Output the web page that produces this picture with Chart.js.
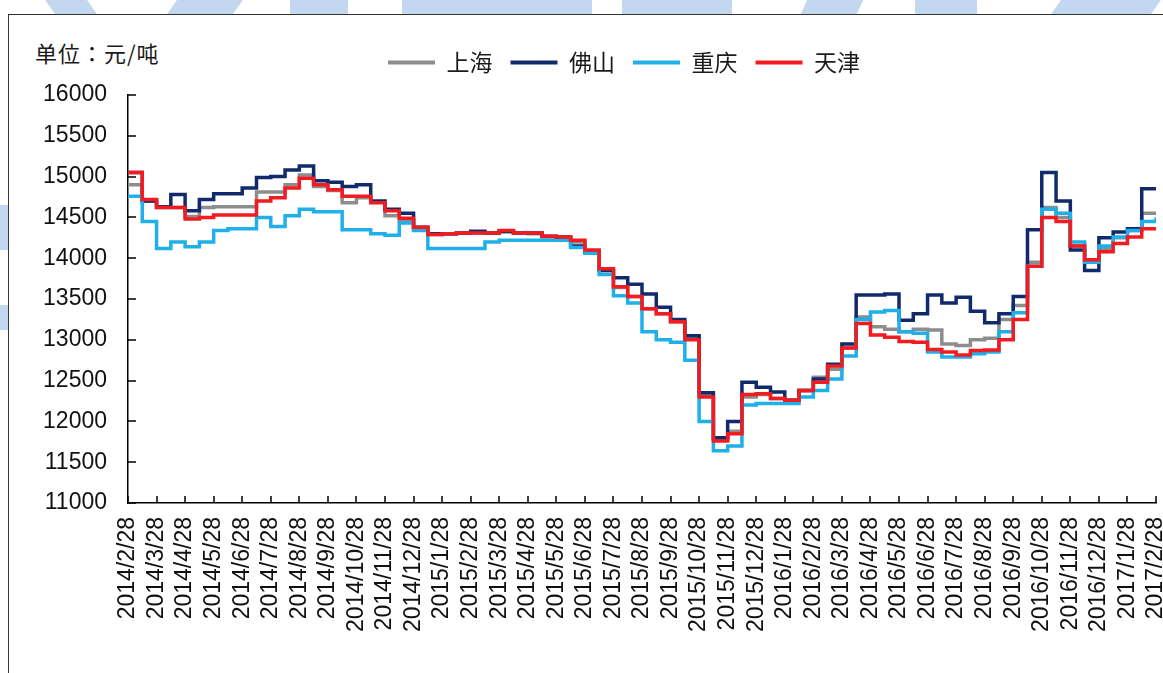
<!DOCTYPE html>
<html lang="zh">
<head>
<meta charset="utf-8">
<title>钢材价格走势</title>
<script src="https://cdn.jsdelivr.net/npm/chart.js@4.4.0/dist/chart.umd.min.js"></script>
<style>
  html, body { margin: 0; padding: 0; background: #fff; overflow: hidden; }
  body { width: 1163px; height: 673px; position: relative; }
  .wm { position: absolute; background: #c4d7f1; }
  .frame {
    position: absolute; left: 8px; top: 14px; width: 1300px; height: 800px;
    border-left: 1.5px solid #333; border-top: 1.5px solid #333; background: #fff;
  }
  .unit {
    position: absolute; left: 35px; top: 40px; letter-spacing: 1px;
    font: 22px "Noto Sans CJK JP", sans-serif; line-height: 24px; color: #1a1a1a;
  }
  .wrap { position: absolute; left: 0; top: 0; width: 1246px; height: 673px; }
</style>
</head>
<body>
<!-- watermark bits peeking out round the frame -->
<div class="wm" style="left:50px;top:0;width:42px;height:14px;transform:skewX(35deg)"></div>
<div class="wm" style="left:172px;top:0;width:66px;height:14px;transform:skewX(-35deg)"></div>
<div class="wm" style="left:290px;top:0;width:58px;height:14px"></div>
<div class="wm" style="left:402px;top:0;width:190px;height:14px"></div>
<div class="wm" style="left:622px;top:0;width:110px;height:14px"></div>
<div class="wm" style="left:804px;top:0;width:56px;height:14px;transform:skewX(-25deg)"></div>
<div class="wm" style="left:915px;top:0;width:62px;height:14px"></div>
<div class="wm" style="left:1056px;top:0;width:100px;height:14px;transform:skewX(-35deg)"></div>
<div class="wm" style="left:0;top:205px;width:8px;height:45px"></div>
<div class="wm" style="left:0;top:305px;width:8px;height:25px"></div>

<div class="frame"></div>
<div class="unit" lang="ja">单位：元/吨</div>
<div class="wrap"><canvas id="chart" width="1246" height="673"></canvas></div>

<script>
// month ticks, 2014/2/28 .. 2017/2/28
const tickLabels = [
    '2014/2/28', '2014/3/28', '2014/4/28', '2014/5/28', '2014/6/28', '2014/7/28',
    '2014/8/28', '2014/9/28', '2014/10/28', '2014/11/28', '2014/12/28',
    '2015/1/28', '2015/2/28', '2015/3/28', '2015/4/28', '2015/5/28', '2015/6/28',
    '2015/7/28', '2015/8/28', '2015/9/28', '2015/10/28', '2015/11/28', '2015/12/28',
    '2016/1/28', '2016/2/28', '2016/3/28', '2016/4/28', '2016/5/28', '2016/6/28',
    '2016/7/28', '2016/8/28', '2016/9/28', '2016/10/28', '2016/11/28', '2016/12/28',
    '2017/1/28', '2017/2/28'
];

const seriesNames = ['上海', '佛山', '重庆', '天津'];
const seriesColors = ['#8d8d8d', '#112a6c', '#1fb0ea', '#f21b1f'];

// prices read every half month (yuan / ton)
const shanghai = [
    14900, 14700, 14620, 14620, 14510, 14620, 14630, 14630, 14630, 14810,
    14810, 14900, 15020, 14880, 14830, 14680, 14740, 14690, 14520, 14460,
    14370, 14290, 14300, 14310, 14310, 14310, 14320, 14310, 14300, 14260,
    14250, 14200, 14080, 13850, 13640, 13530, 13380, 13320, 13220, 13020,
    12330, 11780, 11880, 12300, 12330, 12280, 12260, 12380, 12540, 12640,
    12900, 13280, 13160, 13130, 13100, 13130, 13120, 12950, 12930, 13000,
    13020, 13250, 13420, 13950, 14620, 14500, 14150, 13950, 14120, 14250,
    14340, 14550, 14550
];
const foshan = [
    15050, 14700, 14630, 14780, 14580, 14720, 14790, 14790, 14860, 14990,
    15000, 15080, 15130, 14950, 14930, 14880, 14900, 14700, 14600, 14550,
    14380, 14300, 14300, 14310, 14330, 14310, 14330, 14310, 14310, 14270,
    14260, 14150, 14080, 13850, 13760, 13680, 13560, 13400, 13250, 13050,
    12350, 11800, 12000, 12480, 12420, 12360, 12260, 12380, 12520, 12700,
    12950, 13550, 13550, 13560, 13240, 13320, 13550, 13450, 13520, 13350,
    13210, 13320, 13530, 14350, 15050, 14700, 14100, 13850, 14250, 14320,
    14360, 14850, 14860
];
const chongqing = [
    14760, 14450, 14120, 14200, 14140, 14200, 14340, 14360, 14360, 14500,
    14390, 14520, 14600, 14570, 14570, 14350, 14350, 14300, 14280, 14430,
    14340, 14120, 14120, 14120, 14120, 14200, 14220, 14220, 14220, 14220,
    14220, 14130, 14060, 13800, 13540, 13450, 13100, 13000, 12970, 12750,
    12000, 11640, 11700, 12200, 12220, 12220, 12220, 12300, 12380, 12520,
    12800, 13250, 13340, 13360, 13100, 13080, 12850, 12790, 12790, 12830,
    12850, 13100, 13330, 13900, 14600, 14550, 14200, 13950, 14150, 14260,
    14340, 14450, 14500
];
const tianjin = [
    15050, 14720, 14620, 14620, 14480, 14500, 14530, 14530, 14530, 14700,
    14740, 14860, 14980, 14900, 14840, 14760, 14760, 14680, 14580, 14490,
    14380, 14290, 14300, 14310, 14310, 14310, 14340, 14310, 14310, 14270,
    14260, 14220, 14100, 13870, 13650, 13530, 13380, 13320, 13220, 13000,
    12300, 11760, 11850, 12330, 12340, 12280, 12260, 12380, 12480, 12680,
    12900, 13200, 13060, 13030, 12980, 12970, 12880, 12850, 12814, 12870,
    12875, 13000, 13250, 13900, 14500, 14450, 14150, 13980, 14080, 14180,
    14260, 14360, 14350
];

const allSeries = [shanghai, foshan, chongqing, tianjin];
const numFont = 'Liberation Sans, Arial, sans-serif';

// tick marks pointing into the plot, like the spreadsheet original
const innerTicks = {
    id: 'innerTicks',
    beforeDatasetsDraw(chart) {
        const {ctx, chartArea, scales: {x, y}} = chart;
        ctx.save();
        ctx.strokeStyle = '#000';
        ctx.lineWidth = 1.5;
        ctx.beginPath();
        x.ticks.forEach(t => {
            const px = Math.round(x.getPixelForValue(t.value));
            ctx.moveTo(px, chartArea.bottom);
            ctx.lineTo(px, chartArea.bottom - 7);
        });
        y.ticks.forEach(t => {
            const py = Math.round(y.getPixelForValue(t.value));
            ctx.moveTo(chartArea.left, py);
            ctx.lineTo(chartArea.left + 8, py);
        });
        ctx.stroke();
        ctx.restore();
    }
};

// a bit more room under the legend, and nudge it right of centre
const legendTweak = {
    id: 'legendTweak',
    beforeInit(chart) {
        const fit = chart.legend.fit;
        chart.legend.fit = function () {
            fit.call(this);
            this.height += 11;
        };
    },
    afterLayout(chart) {
        chart.legend.left += 46;
        chart.legend.right += 46;
    }
};

const datasets = allSeries.map((vals, i) => ({
    label: seriesNames[i],
    data: vals.map((v, k) => ({x: k / 2, y: v})),
    borderColor: seriesColors[i],
    backgroundColor: seriesColors[i],
    borderWidth: 3.5,
    stepped: true,
    pointRadius: 0,
    fill: false,
    order: allSeries.length - i
}));

new Chart(document.getElementById('chart'), {
    type: 'line',
    data: {datasets},
    plugins: [innerTicks, legendTweak],
    options: {
        responsive: false,
        animation: false,
        layout: {padding: {left: 0, right: 90, top: 33, bottom: 0}},
        plugins: {
            tooltip: {enabled: false},
            legend: {
                position: 'top',
                align: 'center',
                labels: {
                    boxWidth: 47,
                    boxHeight: 4,
                    padding: 18,
                    color: '#1a1a1a',
                    font: {family: '"Noto Sans CJK SC", sans-serif', size: 23},
                    generateLabels: chart => chart.data.datasets.map((ds, i) => ({
                        text: ds.label,
                        fillStyle: ds.borderColor,
                        strokeStyle: ds.borderColor,
                        lineWidth: 0,
                        hidden: false,
                        datasetIndex: i,
                        fontColor: '#1a1a1a'
                    }))
                }
            }
        },
        scales: {
            x: {
                type: 'linear',
                min: 0,
                max: 36,
                afterFit: s => { s.height = 170; },
                afterBuildTicks: s => {
                    s.ticks = tickLabels.map((_, i) => ({value: i}));
                },
                grid: {display: false, drawTicks: false},
                border: {display: true, color: '#000', width: 1.5},
                ticks: {
                    autoSkip: false,
                    minRotation: 90,
                    maxRotation: 90,
                    padding: 14,
                    color: '#111',
                    font: {family: numFont, size: 23},
                    callback: v => tickLabels[v]
                }
            },
            y: {
                min: 11000,
                max: 16000,
                afterFit: s => { s.width = 128; },
                grid: {display: false, drawTicks: false},
                border: {display: true, color: '#000', width: 1.5},
                ticks: {
                    stepSize: 500,
                    padding: 21,
                    color: '#111',
                    font: {family: numFont, size: 23},
                    callback: v => String(v)
                }
            }
        }
    }
});
</script>
</body>
</html>
